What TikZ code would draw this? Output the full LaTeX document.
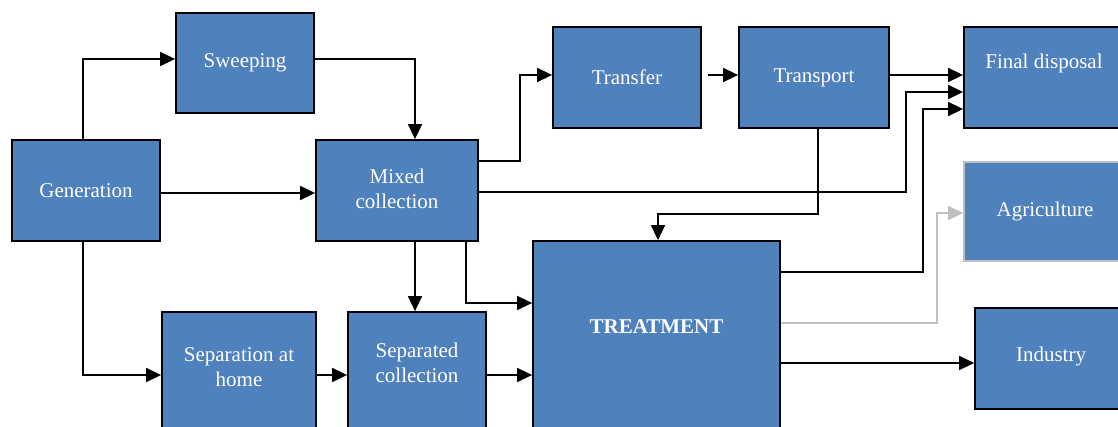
\documentclass[tikz,border=0pt]{standalone}
\usepackage{fontspec}
\setmainfont{Liberation Serif}
\usetikzlibrary{arrows.meta}

\begin{document}
\begin{tikzpicture}[x=1pt, y=-1pt,
    box/.style={rectangle, draw=black, line width=1.8pt, fill=stageblue, inner sep=0pt},
    boxtext/.style={text=white, font=\fontsize{21}{25}\selectfont, align=center},
    flow/.style={line width=1.6pt, -{Triangle[length=15pt, width=14pt]}},
    ]
    \definecolor{stageblue}{RGB}{79, 129, 189}
    \definecolor{softgray}{RGB}{191, 191, 191}
    
    \def\bh{101};
    
    \useasboundingbox (0,0) rectangle (1118,427);
    \clip (0,0) rectangle (1118,427);
    
    % Stages
    \node[box, minimum width=148pt, minimum height=\bh pt] (generation) at (86,190.5) {};
    \node[box, minimum width=138pt, minimum height=100pt] (sweeping) at (245,63) {};
    \node[box, minimum width=162pt, minimum height=\bh pt] (mixed) at (397,190.5) {};
    \node[box, minimum width=148pt, minimum height=\bh pt] (transfer) at (627,77.5) {};
    \node[box, minimum width=150pt, minimum height=\bh pt] (transport) at (814,77.5) {};
    \node[box, minimum width=160pt, minimum height=\bh pt] (final) at (1044,77.5) {};
    \node[box, draw=softgray, minimum width=162pt, minimum height=99pt] (agriculture) at (1045,211.5) {};
    \node[box, minimum width=152pt, minimum height=\bh pt] (industry) at (1051,358.5) {};
    \node[box, minimum width=247pt, minimum height=199pt] (treatment) at (656.5,340.5) {};
    \node[box, minimum width=154pt, minimum height=130pt] (sephome) at (239,377) {};
    \node[box, minimum width=138pt, minimum height=130pt] (sepcoll) at (417,377) {};
    
    % Stage names
    \node[boxtext] (generation-txt) at (generation) {Generation};
    \node[boxtext] (sweeping-txt) at (sweeping) {Sweeping};
    \node[boxtext] (mixed-txt) at ([yshift=2pt]mixed.center) {Mixed\\collection};
    \node[boxtext] (transfer-txt) at (transfer) {Transfer};
    \node[boxtext] (transport-txt) at (transport) {Transport};
    \node[boxtext] (final-txt) at ([yshift=14pt]final.center) {Final disposal};
    \node[boxtext] (agriculture-txt) at (agriculture) {Agriculture};
    \node[boxtext] (industry-txt) at ([yshift=2pt]industry.center) {Industry};
    \node[boxtext, font=\fontsize{21}{25}\selectfont\bfseries] (treatment-txt) at ([yshift=13.5pt]treatment.center) {TREATMENT};
    \node[boxtext] (sephome-txt) at ([yshift=10pt]sephome.center) {Separation at\\home};
    \node[boxtext] (sepcoll-txt) at ([yshift=14.5pt]sepcoll.center) {Separated\\collection};
    
    % Flows
    \draw[flow] ([xshift=-3pt]generation.north) |- ([yshift=4pt]sweeping.west);
    \draw[flow] ([yshift=4pt]sweeping.east) -| ([xshift=18pt]mixed.north);
    \draw[flow] ([yshift=-2.5pt]generation.east) -- ([yshift=-2.5pt]mixed.west);
    \draw[flow] ([xshift=-3pt]generation.south) |- ([yshift=2pt]sephome.west);
    \draw[flow] ([yshift=2pt]sephome.east) -- ([yshift=2pt]sepcoll.west);
    \draw[flow] ([yshift=2pt]sepcoll.east) -- ([yshift=-34.5pt]treatment.west);
    \draw[flow] ([xshift=18pt]mixed.south) -- ([xshift=-2pt]sepcoll.north);
    \draw[flow] ([xshift=69pt]mixed.south) |- ([yshift=37.5pt]treatment.west);
    
    \draw[flow] ([yshift=29.5pt]mixed.east) -- ++(41,0) |- ([yshift=2.5pt]transfer.west);
    \draw[flow] ([xshift=6pt, yshift=2.5pt]transfer.east) -- ([yshift=2.5pt]transport.west);
    \draw[flow] ([yshift=2.5pt]transport.east) -- ([yshift=2.5pt]final.west);
    \draw[flow] ([yshift=-1.5pt]mixed.east) -- ++(427,0) |- ([yshift=-14.5pt]final.west);
    \draw[flow] ([yshift=68.5pt]treatment.east) -- ++(142,0) |- ([yshift=-31.5pt]final.west);
    \draw[flow] ([xshift=4pt]transport.south) -- ++(0,85) -| ([xshift=1.5pt]treatment.north);
    
    \draw[flow, softgray] ([yshift=17.5pt]treatment.east) -- ++(156,0) |- ([yshift=-1.5pt]agriculture.west);
    \draw[flow] ([yshift=-22.5pt]treatment.east) -- ([yshift=-4.5pt]industry.west);
\end{tikzpicture}
\end{document}
